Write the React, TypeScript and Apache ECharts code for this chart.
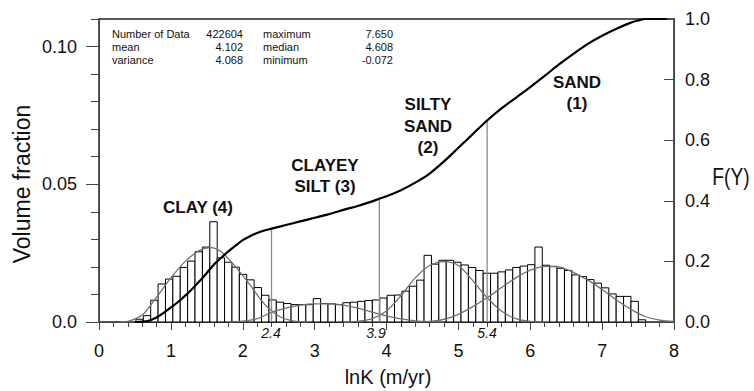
import React, { useEffect, useRef } from "react";
import * as echarts from "echarts";

// ---- data ----
const binStart = 0.565; // centre of first histogram bin (lnK)
const binWidth = 0.1028; // bin width (lnK)
const volumeFraction = [
  0.001, 0.0023, 0.0079, 0.0138, 0.0156, 0.0166, 0.0198, 0.0221, 0.0255, 0.0272,
  0.0364, 0.0233, 0.0217, 0.0199, 0.0173, 0.0153, 0.0125, 0.0097, 0.008, 0.0072,
  0.0067, 0.0063, 0.0063, 0.0063, 0.0085, 0.0067, 0.0066, 0.0063, 0.007, 0.0072,
  0.0075, 0.0078, 0.008, 0.0087, 0.0097, 0.0098, 0.0112, 0.013, 0.0152, 0.0242,
  0.021, 0.0224, 0.0224, 0.0217, 0.0207, 0.0198, 0.0187, 0.0177, 0.0177, 0.0182,
  0.0189, 0.0198, 0.0203, 0.0208, 0.0272, 0.0206, 0.0202, 0.0195, 0.0187, 0.0171,
  0.0165, 0.0154, 0.0141, 0.0124, 0.0102, 0.0093, 0.0093, 0.0075, 0.0008,
];

const clayCurve = [
  [0.3, 0], [0.4, 0.0002], [0.6, 0.0025], [0.8, 0.009], [1.0, 0.016], [1.2, 0.022],
  [1.4, 0.026], [1.55, 0.027], [1.7, 0.0255], [1.9, 0.02], [2.1, 0.0135], [2.3, 0.0066],
  [2.5, 0.0022], [2.7, 0.0004], [2.9, 0],
];
const clayeySiltCurve = [
  [1.8, 0], [2.0, 0.0003], [2.2, 0.0012], [2.4, 0.0035], [2.6, 0.005], [2.8, 0.0061],
  [3.0, 0.0066], [3.2, 0.0066], [3.4, 0.0061], [3.6, 0.005], [3.8, 0.0036], [4.0, 0.0022],
  [4.2, 0.0011], [4.4, 0.0004], [4.6, 0.0001], [4.8, 0],
];
const siltySandCurve = [
  [3.4, 0], [3.6, 0.0002], [3.8, 0.0012], [4.0, 0.004], [4.2, 0.0095], [4.4, 0.016],
  [4.6, 0.0205], [4.8, 0.0219], [5.0, 0.0205], [5.2, 0.015], [5.4, 0.0088], [5.6, 0.004],
  [5.8, 0.0012], [6.0, 0.0002], [6.2, 0],
];
const sandCurve = [
  [4.4, 0], [4.6, 0.0002], [4.8, 0.001], [5.0, 0.0028], [5.2, 0.0056], [5.4, 0.0088],
  [5.6, 0.0125], [5.8, 0.016], [6.0, 0.0188], [6.2, 0.0202], [6.4, 0.02], [6.6, 0.018],
  [6.8, 0.0152], [7.0, 0.0118], [7.2, 0.008], [7.4, 0.0046], [7.6, 0.002], [7.8, 0.0007],
  [8.0, 0.0002],
];
const cdfCurve = [
  [0.5, 0], [0.6, 0.001], [0.7, 0.005], [0.8, 0.015], [0.9, 0.03], [1.0, 0.048],
  [1.1, 0.066], [1.2, 0.087], [1.3, 0.11], [1.4, 0.135], [1.5, 0.162], [1.6, 0.19],
  [1.7, 0.212], [1.8, 0.233], [1.9, 0.252], [2.0, 0.27], [2.1, 0.283], [2.2, 0.294],
  [2.3, 0.302], [2.4, 0.308], [2.6, 0.32], [2.8, 0.332], [3.0, 0.344], [3.2, 0.356],
  [3.4, 0.37], [3.6, 0.383], [3.8, 0.398], [3.9, 0.407], [4.0, 0.415], [4.2, 0.435],
  [4.4, 0.46], [4.6, 0.49], [4.8, 0.53], [5.0, 0.575], [5.2, 0.62], [5.4, 0.665],
  [5.6, 0.705], [5.8, 0.74], [6.0, 0.775], [6.2, 0.812], [6.4, 0.85], [6.6, 0.885],
  [6.8, 0.918], [7.0, 0.945], [7.2, 0.968], [7.4, 0.988], [7.5, 0.995], [7.6, 1.0],
  [7.9, 1.0],
];
const boundaryX = [2.4, 3.9, 5.4];
const boundaryF = [0.305, 0.411, 0.667];
const boundaryLabels = ["2.4", "3.9", "5.4"];

const statsLeftLabels = ["Number of Data", "mean", "variance"];
const statsLeftValues = ["422604", "4.102", "4.068"];
const statsRightLabels = ["maximum", "median", "minimum"];
const statsRightValues = ["7.650", "4.608", "-0.072"];

const FONT = "'Liberation Sans', Arial, Helvetica, sans-serif";

export default function App() {
  const ref = useRef<HTMLDivElement>(null);

  useEffect(() => {
    document.body.style.margin = "0";
    const chart = echarts.init(ref.current as HTMLDivElement, null, { renderer: "svg" });

    const gridLeft = 99;
    const gridRight = 80;
    const gridTop = 19;
    const gridBottom = 69;

    const curveStyle = { color: "#707070", width: 1.3 };
    const gaussian = (data: number[][]) => ({
      type: "line",
      data,
      xAxisIndex: 0,
      yAxisIndex: 0,
      smooth: 0.3,
      showSymbol: false,
      symbol: "none",
      lineStyle: curveStyle,
      z: 3,
      silent: true,
    });

    const statsRows: any[] = [];
    const rowY = [34, 47, 60];
    for (let i = 0; i < 3; i++) {
      statsRows.push(
        { type: "text", x: 112, y: rowY[i], style: { text: statsLeftLabels[i], font: `11px ${FONT}`, fill: "#111", align: "left", verticalAlign: "middle" } },
        { type: "text", x: 243, y: rowY[i], style: { text: statsLeftValues[i], font: `11px ${FONT}`, fill: "#111", align: "right", verticalAlign: "middle" } },
        { type: "text", x: 263, y: rowY[i], style: { text: statsRightLabels[i], font: `11px ${FONT}`, fill: "#111", align: "left", verticalAlign: "middle" } },
        { type: "text", x: 393, y: rowY[i], style: { text: statsRightValues[i], font: `11px ${FONT}`, fill: "#111", align: "right", verticalAlign: "middle" } }
      );
    }

    const regionLabel = (text: string, x: number, y: number) => ({
      type: "text",
      x,
      y,
      style: { text, font: `bold 17px ${FONT}`, fill: "#111", align: "center", verticalAlign: "middle", lineHeight: 21.5 },
    });

    const boundaryTextX = [271, 376, 487];
    const boundaryTexts = boundaryLabels.map((t, i) => ({
      type: "text",
      x: boundaryTextX[i],
      y: 333,
      style: { text: t, font: `italic 14px ${FONT}`, fill: "#111", align: "center", verticalAlign: "middle" },
    }));

    const option: any = {
      animation: false,
      backgroundColor: "#fff",
      grid: {
        left: gridLeft,
        right: gridRight,
        top: gridTop,
        bottom: gridBottom,
        show: true,
        borderColor: "#222",
        borderWidth: 1.5,
        backgroundColor: "transparent",
      },
      xAxis: [
        {
          type: "value",
          min: 0,
          max: 8,
          interval: 1,
          axisLine: { show: true, onZero: false, lineStyle: { color: "#444", width: 1 } },
          axisTick: { show: true, length: 8, lineStyle: { color: "#444" } },
          minorTick: { show: true, splitNumber: 5, length: 5, lineStyle: { color: "#444" } },
          splitLine: { show: false },
          minorSplitLine: { show: false },
          axisLabel: { fontSize: 18, color: "#111", margin: 20, fontFamily: FONT },
        },
      ],
      yAxis: [
        {
          type: "value",
          position: "left",
          min: 0,
          max: 0.11,
          interval: 0.05,
          axisLine: { show: true, lineStyle: { color: "#444" } },
          axisTick: { show: true, length: 13, lineStyle: { color: "#444" } },
          splitLine: { show: false },
          axisLabel: {
            fontSize: 18,
            color: "#111",
            margin: 22,
            fontFamily: FONT,
            showMaxLabel: false,
            formatter: (v: number) => (v === 0 ? "0.0" : v.toFixed(2)),
          },
        },
        {
          type: "value",
          position: "right",
          min: 0,
          max: 1,
          interval: 0.2,
          axisLine: { show: true, lineStyle: { color: "#444" } },
          axisTick: { show: true, inside: true, length: 10, lineStyle: { color: "#444" } },
          splitLine: { show: false },
          axisLabel: {
            fontSize: 18,
            color: "#111",
            margin: 11,
            fontFamily: FONT,
            formatter: (v: number) => v.toFixed(1),
          },
        },
        {
          type: "value",
          position: "left",
          min: 0,
          max: 0.11,
          interval: 0.01,
          axisLine: { show: false },
          axisTick: { show: true, length: 8, lineStyle: { color: "#444" } },
          splitLine: { show: false },
          axisLabel: { show: false },
        },
      ],
      series: [
        {
          type: "custom",
          xAxisIndex: 0,
          yAxisIndex: 0,
          data: volumeFraction.map((f, i) => [binStart + i * binWidth, f]),
          encode: { x: 0, y: 1 },
          z: 2,
          silent: true,
          renderItem: (params: any, api: any) => {
            const x = api.value(0);
            const y = api.value(1);
            const p0 = api.coord([x - binWidth / 2, y]);
            const p1 = api.coord([x + binWidth / 2, 0]);
            return {
              type: "rect",
              shape: { x: p0[0], y: p0[1], width: p1[0] - p0[0], height: p1[1] - p0[1] },
              style: { fill: "#fff", stroke: "#000", lineWidth: 1 },
            };
          },
        },
        gaussian(clayCurve),
        gaussian(clayeySiltCurve),
        gaussian(siltySandCurve),
        gaussian(sandCurve),
        ...boundaryX.map((bx, i) => ({
          type: "line",
          xAxisIndex: 0,
          yAxisIndex: 1,
          data: [[bx, 0], [bx, boundaryF[i]]],
          showSymbol: false,
          symbol: "none",
          lineStyle: { color: "#8a8a8a", width: 1.3 },
          z: 3,
          silent: true,
        })),
        {
          type: "line",
          xAxisIndex: 0,
          yAxisIndex: 1,
          data: cdfCurve,
          smooth: 0.3,
          showSymbol: false,
          symbol: "none",
          lineStyle: { color: "#000", width: 2.2 },
          z: 4,
          silent: true,
        },
      ],
      graphic: [
        ...statsRows,
        regionLabel("CLAY (4)", 198, 207),
        regionLabel("CLAYEY\nSILT (3)", 325, 176),
        regionLabel("SILTY\nSAND\n(2)", 428, 126),
        regionLabel("SAND\n(1)", 577, 93),
        ...boundaryTexts,
        {
          type: "text",
          x: 22,
          y: 184,
          rotation: Math.PI / 2,
          style: { text: "Volume fraction", font: `23px ${FONT}`, fill: "#111", align: "center", verticalAlign: "middle" },
        },
        {
          type: "text",
          x: 388,
          y: 377,
          style: { text: "lnK (m/yr)", font: `20px ${FONT}`, fill: "#111", align: "center", verticalAlign: "middle" },
        },
        {
          type: "text",
          x: 731,
          y: 177,
          scaleX: 0.8,
          style: { text: "F(Y)", font: `24px ${FONT}`, fill: "#111", align: "center", verticalAlign: "middle" },
        },
      ],
    };

    chart.setOption(option);
    return () => chart.dispose();
  }, []);

  return <div ref={ref} style={{ position: "absolute", left: 0, top: 0, width: 754, height: 391 }} />;
}
